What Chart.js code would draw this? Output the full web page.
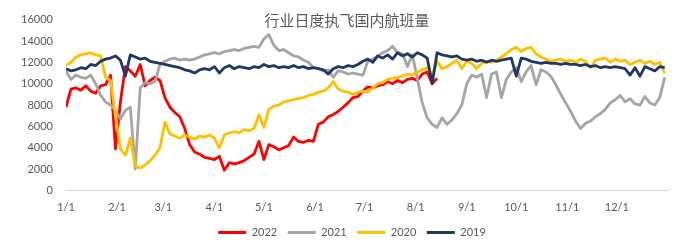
<!DOCTYPE html>
<html><head><meta charset="utf-8">
<script src="https://cdn.jsdelivr.net/npm/chart.js@4/dist/chart.umd.min.js"></script>
<style>html,body{margin:0;padding:0;background:#fff;overflow:hidden}</style>
</head><body>
<canvas id="c" width="700" height="248"></canvas>
<script>
const chartTitle = '行业日度执飞国内航班量';
const monthStarts = [0,31,59,90,120,151,181,212,243,273,304,334];
const monthLabels = ['1/1','2/1','3/1','4/1','5/1','6/1','7/1','8/1','9/1','10/1','11/1','12/1'];
const yTicks = [0,2000,4000,6000,8000,10000,12000,14000,16000];
const seriesNames = ['2022','2021','2020','2019'];
const days = [0,3,6,9,12,15,18,21,24,27,30,33,36,39,42,45,48,51,54,57,60,63,66,69,72,75,78,81,84,87,
90,93,96,99,102,105,108,111,114,117,120,123,126,129,132,135,138,141,144,147,150,153,156,159,162,165,168,171,174,177,
180,183,186,189,192,195,198,201,204,207,210,213,216,219,222,225,228,231,234,237,240,243,246,249,252,255,258,261,264,267,
270,273,276,279,282,285,288,291,294,297,300,303,306,309,312,315,318,321,324,327,330,333,336,339,342,345,348,351,354,357,360,363];

const v2022 = [7800,9500,9600,9400,9800,9300,9100,9800,9900,10800,
3900,8300,11600,11200,10700,11800,9800,10300,10600,10300,
8700,7800,7300,6900,5800,4300,3600,3400,3100,3000,
2900,3200,1900,2600,2500,2600,2800,3100,3400,4600,
2900,4300,4100,3800,4000,4200,5000,4600,4500,4700,
4600,6200,6400,6900,7100,7400,7800,8200,8700,8800,
9300,9700,9600,9800,9900,10200,10000,10300,10100,10400,
10500,10300,10900,11100,10000,10500];

const v2021 = [11200,10400,10800,10600,10500,10800,10000,8900,8300,8000,
7500,6700,7500,7800,2000,9600,10100,10000,10200,11800,
12100,12300,12400,12200,12300,12200,12300,12500,12700,12800,
12900,12800,13000,13100,13200,13100,13300,13400,13500,13400,
14200,14600,13600,13100,13200,12900,12600,12500,12200,12000,
11500,11400,11200,11300,10600,11200,11100,10900,11000,10900,
10800,12100,12300,12600,12900,13100,13500,12900,12800,11600,
12700,10500,8200,6800,6200,5900,6800,6200,6600,7200,
8000,10000,10800,10600,10900,8700,10900,11100,8700,10400,
11100,11500,10200,11100,11700,9900,11300,11100,10700,9900,
9000,8200,7400,6500,5800,6300,6500,6900,7200,7600,
8200,8500,8900,8300,8600,8100,8000,8800,8200,8000,
8700,10600];

const v2020 = [11700,12000,12500,12700,12800,12900,12700,12600,10600,10300,
7000,3900,3300,4900,2300,2100,2400,2800,3300,4000,
6400,5300,5100,4900,5200,5000,4800,5100,5000,5200,
4900,4000,5200,5400,5500,5400,5700,5600,5800,7100,
5900,7600,7900,8000,8300,8400,8500,8600,8700,8900,
9000,9200,9300,9600,10200,9500,9300,9200,9000,9200,
9300,9200,9600,10000,10100,10400,10500,10600,10700,10900,
10800,11100,11300,11500,10800,12100,11400,11600,11900,12200,
11400,12100,11900,11400,11900,12100,12000,12200,12500,12800,
13200,13400,13000,13300,13400,12800,12500,12300,12100,12200,
12300,12100,12200,12000,12300,12100,11500,12200,12300,12400,
12000,12300,12100,12200,11800,12000,12200,11900,12100,11800,
12000,11000];

const v2019 = [11400,11200,11300,11500,11400,11800,11700,12100,12300,12400,
12600,12200,10700,12700,12500,12300,12400,12100,12000,11900,
11800,11700,11600,11500,11300,11200,11000,11300,11400,11300,
11600,11000,11500,11700,11400,11600,11500,11400,11600,11500,
11800,11600,11700,11500,11600,11500,11700,11500,11600,11400,
11500,11400,11300,10900,11400,11600,11500,11700,11600,11800,
12100,12300,12000,12600,12400,12700,12300,12900,12600,12800,
12500,12900,12700,12400,10000,12900,12700,12600,12500,12600,
12300,12200,12300,12100,12200,12000,12200,12100,12200,12300,
12400,10700,12400,12300,12100,12000,11900,12000,11900,11900,
11800,11900,11800,11800,11700,11800,11600,11700,11500,11600,
11500,11600,11500,11400,10800,11500,10700,11600,11400,11200,
11600,11500];

const colors = {'2022':'#FF0000','2021':'#A5A5A5','2020':'#FFC000','2019':'#1F3864'};
const valuesByName = {'2022':v2022,'2021':v2021,'2020':v2020,'2019':v2019};
const textColor = '#595959';
const numFont = 'Lato';

function makeDataset(name, order) {
  const arr = valuesByName[name];
  return {
    label: name,
    data: arr.map((v, i) => ({x: days[i], y: v})),
    borderColor: colors[name],
    backgroundColor: colors[name],
    borderWidth: 2.8,
    pointRadius: 0,
    tension: 0,
    borderJoinStyle: 'round',
    order: order
  };
}

const titlePlugin = {
  id: 'titleText',
  afterLayout(chart) {
    // centre the legend row under the whole figure
    if (chart.legend) { chart.legend.left += 18; chart.legend.right += 18; }
  },
  afterDraw(chart) {
    const ctx = chart.ctx;
    ctx.save();
    ctx.font = '15px "Noto Sans CJK SC"';
    ctx.fillStyle = textColor;
    ctx.textAlign = 'center';
    ctx.textBaseline = 'middle';
    ctx.fillText(chartTitle, 347, 20);
    ctx.restore();
  }
};

new Chart(document.getElementById('c'), {
  type: 'line',
  data: { datasets: seriesNames.map((n, i) => makeDataset(n, 4 - i)) },
  plugins: [titlePlugin],
  options: {
    responsive: false,
    animation: false,
    devicePixelRatio: 1,
    layout: { padding: { left: 0, right: 32, top: 10, bottom: 0 } },
    plugins: {
      tooltip: { enabled: false },
      legend: {
        position: 'bottom',
        labels: {
          boxWidth: 28,
          boxHeight: 3,
          padding: 10.5,
          color: textColor,
          font: { size: 11, family: numFont },
          sort: (a, b) => a.datasetIndex - b.datasetIndex,
          generateLabels: (chart) => Chart.defaults.plugins.legend.labels.generateLabels(chart).map(l => Object.assign(l, {lineWidth: 0}))
        }
      }
    },
    scales: {
      x: {
        type: 'linear',
        min: 0, max: 365,
        grid: { display: false, drawTicks: false },
        border: { display: true, color: '#D9D9D9', width: 1 },
        afterBuildTicks: (s) => { s.ticks = monthStarts.map(v => ({value: v})); },
        afterFit: (s) => { s.height = 26; },
        ticks: {
          autoSkip: false, maxRotation: 0, padding: 10,
          color: textColor, font: { size: 11, family: numFont },
          callback: (v, i) => monthLabels[i]
        }
      },
      y: {
        min: 0, max: 16000,
        grid: { display: false, drawTicks: false },
        border: { display: false },
        afterBuildTicks: (s) => { s.ticks = yTicks.map(v => ({value: v})); },
        afterFit: (s) => { s.width = 66; },
        ticks: {
          padding: 13,
          color: textColor, font: { size: 11, family: numFont },
          callback: (v) => String(v)
        }
      }
    }
  }
});
</script>
</body></html>
